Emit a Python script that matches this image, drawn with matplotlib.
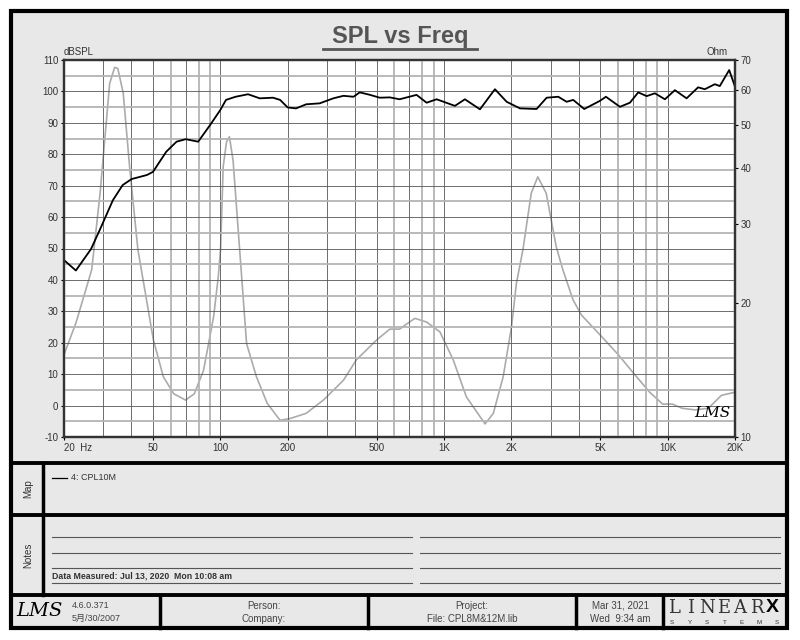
import matplotlib.pyplot as plt
from matplotlib.patches import Rectangle

plt.rcParams['font.family'] = ['Liberation Sans', 'Noto Sans CJK SC', 'DejaVu Sans']
plt.rcParams['axes.unicode_minus'] = False

# SPL curve (black), frequency in Hz, level in dB
spl_freq = [20, 22.6, 26.4, 28.9, 33.1, 36.6, 40.1, 47, 50, 57.3, 63.7, 70, 79.6, 90, 100,
            106, 117, 133, 150, 172, 185, 200, 218, 242, 278, 320, 355, 394, 420, 467, 516,
            572, 633, 754, 836, 927, 1119, 1240, 1448, 1689, 1906, 2186, 2594, 2877, 3243,
            3534, 3782, 4236, 4979, 5296, 6118, 6777, 7387, 8054, 8769, 9722, 10770, 12150,
            13680, 14660, 16250, 17100, 18840, 20000]
spl_db = [46.3, 43, 49.8, 55.9, 65.4, 70.2, 72.1, 73.4, 74.4, 80.8, 84, 84.8, 84, 89.3, 94.1,
          97.3, 98.3, 99.1, 97.8, 98, 97.3, 94.9, 94.6, 95.9, 96.2, 97.8, 98.6, 98.3, 99.7, 98.9, 98,
          98.1, 97.5, 98.9, 96.4, 97.5, 95.4, 97.5, 94.3, 100.7, 96.7, 94.6, 94.4, 98, 98.3,
          96.7, 97.3, 94.4, 97.0, 98.3, 95.1, 96.4, 99.7, 98.5, 99.4, 97.5, 100.4, 97.8,
          101.3, 100.7, 102.3, 101.7, 106.8, 101.5]

# impedance curve (grey), Ohm on log axis
imp_freq = [20, 22.6, 26.6, 29, 32, 33.7, 34.8, 36.8, 39.3, 42.8, 50.2, 55.6, 61.9, 69.9, 76.5,
            84.1, 93.3, 97.9, 100.3, 103, 106.6, 109.8, 114, 122, 131, 145, 162, 185, 205, 242,
            289, 355, 406, 500, 572, 633, 668, 741, 836, 959, 1099, 1259, 1526, 1662, 1839,
            2005, 2107, 2254, 2455, 2626, 2864, 3175, 3400, 3774, 4117, 5063, 6010, 7150,
            8310, 9500, 10500, 11600, 13260, 15200, 17400, 20000]
imp_ohm = [15.3, 18.0, 23.7, 35.2, 62, 67.4, 67, 59, 40.3, 26.3, 16.5, 13.65, 12.5, 12.1, 12.5,
           14.1, 18.6, 22.85, 26.5, 40.4, 45.9, 47.1, 41.7, 26.3, 16.2, 13.65, 11.9, 10.9, 11.0, 11.3,
           12.1, 13.4, 14.9, 16.5, 17.45, 17.45, 17.8, 18.45, 18.1, 17.2, 14.9, 12.3, 10.7, 11.3, 13.65,
           17.7, 22.1, 26.3, 35.2, 38.3, 35.2, 26.7, 23.7, 20.3, 18.76, 16.8, 15.3, 13.77,
           12.6, 11.85, 11.85, 11.6, 11.5, 11.6, 12.4, 12.6]

x_ticks = [20, 50, 100, 200, 500, 1000, 2000, 5000, 10000, 20000]
x_labels = ['20  Hz', '50', '100', '200', '500', '1K', '2K', '5K', '10K', '20K']
db_ticks = list(range(-10, 111, 10))
ohm_ticks = [10, 20, 30, 40, 50, 60, 70]

W, H = 800, 640
fig = plt.figure(figsize=(8, 6.4), dpi=100)
fig.patch.set_facecolor('white')

# page layer in pixel coordinates
bg = fig.add_axes([0, 0, 1, 1])
bg.set_xlim(0, W)
bg.set_ylim(H, 0)
bg.axis('off')
bg.set_zorder(-1)
bg.add_patch(Rectangle((11, 11), 776, 617, facecolor='#e8e8e8', edgecolor='black', lw=3))
for yy in [463, 515, 595]:
    bg.plot([11, 787], [yy, yy], color='black', lw=2.8)
bg.plot([43, 43], [463, 595], color='black', lw=2.5)
for xx in [160, 368, 576, 663]:
    bg.plot([xx, xx], [595, 628], color='black', lw=2.5)

# title
bg.text(400, 37, 'SPL vs Freq', ha='center', va='center', fontsize=17, fontweight='bold', color='#555555')
bg.plot([323, 477], [49, 49], color='#555555', lw=2)
bg.text(64, 52, 'dBSPL', ha='left', va='center', fontsize=7, color='#333333')
bg.text(728, 52, 'Ohm', ha='right', va='center', fontsize=7, color='#333333')

# map and notes
bg.text(28, 489, 'Map', rotation=90, ha='center', va='center', fontsize=7, color='#333333')
bg.text(28, 555, 'Notes', rotation=90, ha='center', va='center', fontsize=7, color='#333333')
bg.plot([52, 67], [478, 478], color='black', lw=0.9)
bg.text(71, 478, '4: CPL10M', ha='left', va='center', fontsize=6.5, color='#333333')
for yy in [537, 553, 568, 583]:
    bg.plot([52, 412], [yy, yy], color='#555555', lw=0.8)
    bg.plot([420, 780], [yy, yy], color='#555555', lw=0.8)
bg.text(52, 580, 'Data Measured: Jul 13, 2020  Mon 10:08 am', ha='left', va='bottom',
        fontsize=6.3, fontweight='bold', color='#333333')

# footer
bg.text(39, 611, 'LMS', ha='center', va='center', fontsize=14, style='italic',
        family='DejaVu Serif', color='black')
bg.text(72, 605, '4.6.0.371', ha='left', va='center', fontsize=6.5, color='#444444')
bg.text(72, 618, '5月/30/2007', ha='left', va='center', fontsize=6.5, color='#444444')
bg.text(264, 606, 'Person:', ha='center', va='center', fontsize=7, color='#444444')
bg.text(264, 619, 'Company:', ha='center', va='center', fontsize=7, color='#444444')
bg.text(472, 606, 'Project:', ha='center', va='center', fontsize=7, color='#444444')
bg.text(472, 619, 'File: CPL8M&12M.lib', ha='center', va='center', fontsize=7, color='#444444')
bg.text(620, 606, 'Mar 31, 2021', ha='center', va='center', fontsize=7, color='#444444')
bg.text(620, 619, 'Wed  9:34 am', ha='center', va='center', fontsize=7, color='#444444')
for i, ch in enumerate('LINEAR'):
    bg.text(674 + i * 16.5, 608, ch, ha='center', va='center', fontsize=13,
            family='DejaVu Serif', fontweight='light', color='#333333')
bg.text(772, 607, 'X', ha='center', va='center', fontsize=14, fontweight='bold', color='black')
for i, ch in enumerate('SYSTEMS'):
    bg.text(672 + i * 17.5, 623, ch, ha='center', va='center', fontsize=4.5, color='#333333')

# main chart
ax = fig.add_axes([64 / W, 1 - 437 / H, 671 / W, 377 / H])
ax2 = ax.twinx()
ax.set_zorder(ax2.get_zorder() + 1)
ax.patch.set_visible(False)
ax2.patch.set_visible(True)
ax2.patch.set_facecolor('white')

ax.set_xscale('log')
ax.set_xlim(20, 20000)
ax.set_ylim(-10, 110)
ax2.set_yscale('log')
ax2.set_ylim(10, 70)

# grid
for dec in [10, 100, 1000, 10000]:
    for m in range(1, 10):
        f = dec * m
        if f <= 20 or f >= 20000:
            continue
        if m in (6, 8, 9):
            ax.axvline(f, color='#b4b4b4', lw=1.3, zorder=0)
        else:
            ax.axvline(f, color='#555555', lw=0.6, zorder=0)
for v in range(-10, 111, 5):
    if v % 10 == 0:
        ax.axhline(v, color='#555555', lw=0.6, zorder=0)
    else:
        ax.axhline(v, color='#b4b4b4', lw=1.3, zorder=0)

ax2.plot(imp_freq, imp_ohm, color='#ababab', lw=1.2)
ax.plot(spl_freq, spl_db, color='black', lw=1.3)

ax.set_xticks(x_ticks)
ax.set_xticklabels(x_labels)
ax.xaxis.set_minor_locator(plt.NullLocator())
ax.get_xticklabels()[0].set_horizontalalignment('left')
ax.set_yticks(db_ticks)
ax2.set_yticks(ohm_ticks)
ax2.set_yticklabels([str(t) for t in ohm_ticks])
ax2.yaxis.set_minor_locator(plt.NullLocator())

ax.tick_params(axis='both', labelsize=7, labelcolor='#333333', length=2, width=0.8, pad=2)
ax2.tick_params(axis='y', labelsize=7, labelcolor='#333333', length=2, width=0.8, pad=2)
for a in (ax, ax2):
    for s in a.spines.values():
        s.set_color('#333333')
        s.set_linewidth(1.6)

# signature inside the plot area
fig.text(712 / W, 1 - 413 / H, 'LMS', ha='center', va='center', fontsize=11, style='italic',
         family='DejaVu Serif', color='black', zorder=10)

fig.savefig('out.png', dpi=100, facecolor='white')
